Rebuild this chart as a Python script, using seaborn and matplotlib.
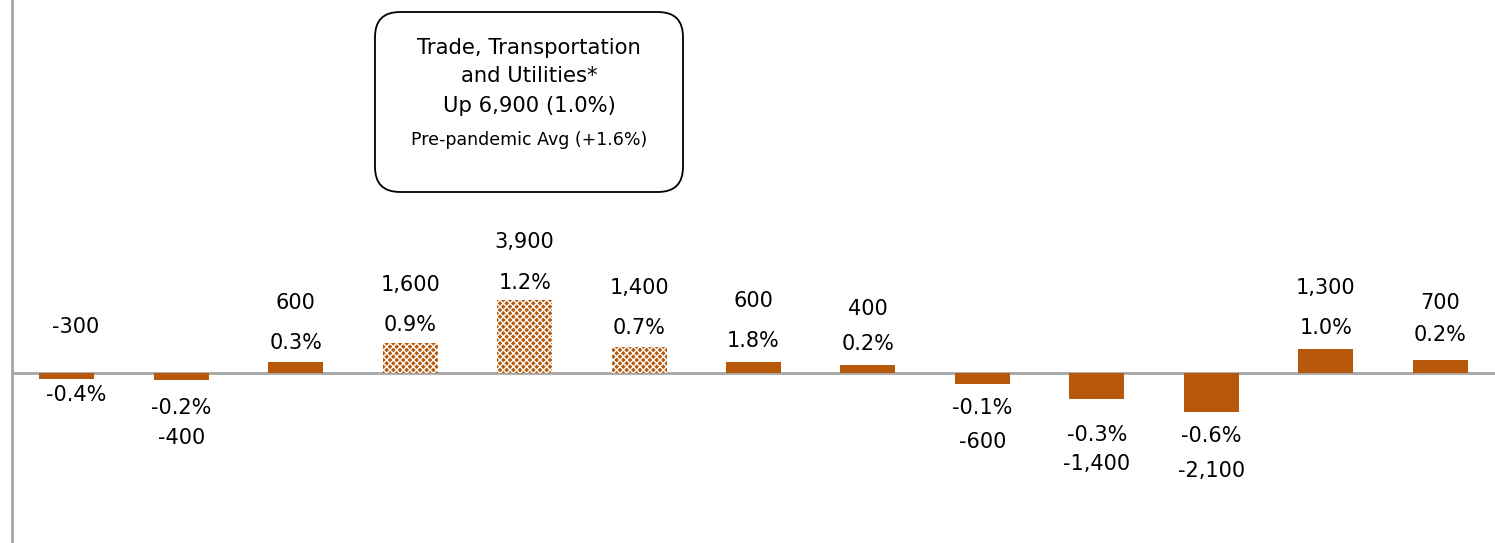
import matplotlib
matplotlib.use("Agg")
import matplotlib.pyplot as plt
import pandas as pd
import seaborn as sns
from matplotlib.patches import FancyBboxPatch

# Data
sectors = ['Mining and Logging', 'Construction', 'Manufacturing', 'Wholesale Trade',
           'Retail Trade', 'Transportation and Utilities', 'Information',
           'Financial Activities', 'Professional and Business Services',
           'Education and Health Services', 'Leisure and Hospitality',
           'Other Services', 'Government']
change = [-300, -400, 600, 1600, 3900, 1400, 600, 400, -600, -1400, -2100, 1300, 700]
pct = ['-0.4%', '-0.2%', '0.3%', '0.9%', '1.2%', '0.7%', '1.8%', '0.2%',
       '-0.1%', '-0.3%', '-0.6%', '1.0%', '0.2%']
in_ttu = [False, False, False, True, True, True, False, False, False, False, False, False, False]
box_lines = ['Trade, Transportation', 'and Utilities*', 'Up 6,900 (1.0%)', 'Pre-pandemic Avg (+1.6%)']

# label layout: vertical offsets (pixels) from bar end for value / pct labels
value_dy = [52, -58, 59, 58, 58, 59, 61, 56, -58, -65, -59, 61, 57]
pct_dy = [-16, -28, 19, 18, 17, 19, 21, 21, -24, -36, -24, 21, 25]
label_dx = [9, 0, 0, 0, 0, 0, 0, 0, 0, 0, 0, 0, 0]

df = pd.DataFrame({'sector': sectors, 'change': change})

orange = '#B7580A'
grey = '#A6A6A6'
font = ['DejaVu Sans']

plt.rcParams['font.family'] = font
plt.rcParams['hatch.linewidth'] = 1.0

fig = plt.figure(figsize=(14.95, 5.43), dpi=100)
ax = fig.add_axes([12 / 1495, 0, 1 - 12 / 1495, 1])

sns.barplot(data=df, x='sector', y='change', color=orange, saturation=1,
            width=0.48, ax=ax)

for patch, hatched in zip(ax.patches, in_ttu):
    if hatched:
        patch.set_hatch('xxxxx')
        patch.set_edgecolor('white')
        patch.set_linewidth(0)

ax.set_xlim(-0.48, 12.48)
ax.set_ylim(-9100, 19950)
ax.axhline(0, color=grey, lw=2, zorder=0.5)
for s in ['top', 'right', 'bottom']:
    ax.spines[s].set_visible(False)
ax.spines['left'].set_color(grey)
ax.spines['left'].set_linewidth(2)
ax.set_xticks([])
ax.set_yticks([])
ax.set_xlabel('')
ax.set_ylabel('')

px = 0.72  # pixels -> points
for i, (v, p) in enumerate(zip(change, pct)):
    ax.annotate(f'{v:,}', xy=(i, v), xytext=(label_dx[i] * px, value_dy[i] * px),
                textcoords='offset points', ha='center', va='center', fontsize=15)
    ax.annotate(p, xy=(i, v), xytext=(label_dx[i] * px, pct_dy[i] * px),
                textcoords='offset points', ha='center', va='center', fontsize=15)

# callout box (inches)
box = FancyBboxPatch((3.75, 3.51), 3.08, 1.80, boxstyle='round,pad=0,rounding_size=0.25',
                     transform=fig.dpi_scale_trans, facecolor='white', edgecolor='black',
                     lw=1.3)
fig.add_artist(box)
line_y = [4.95, 4.67, 4.37, 4.03]
line_size = [15.2, 15.2, 15.2, 12.5]
for txt, y, fs in zip(box_lines, line_y, line_size):
    fig.text(5.29, y, txt, transform=fig.dpi_scale_trans, ha='center', va='center', fontsize=fs)

fig.savefig('out.png', dpi=100)
